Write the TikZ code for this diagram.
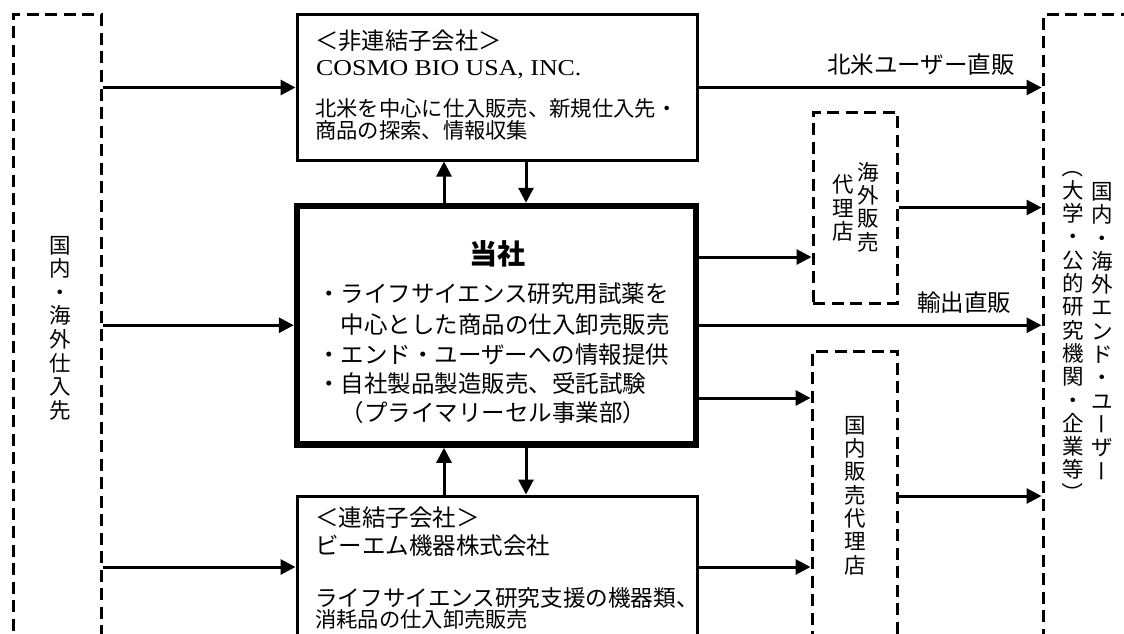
\documentclass[tikz,border=0pt]{standalone}
\usepackage{fontspec}
\usepackage{graphicx}
\usetikzlibrary{arrows.meta,calc}
\newfontfamily\jp{Noto Sans CJK JP}
\newfontfamily\lat[FakeStretch=1.14]{Liberation Serif}
\newcommand\jfs[1]{\fontsize{#1}{#1}\selectfont}
\newcommand\vrot[1]{\makebox[1em]{\raisebox{0.38em}{\rotatebox[origin=c]{-90}{\makebox[1em]{\raisebox{-0.38em}[0.5em][0.5em]{#1}}}}}}
\tikzset{
  solidbox/.style={draw, line width=3pt, inner sep=0pt},
  mainbox/.style={draw, line width=6.5pt, inner sep=0pt},
  dbox/.style={draw, line width=3pt, inner sep=0pt, dash pattern=on 12pt off 6.5pt},
  arr/.style={line width=3pt, -{Triangle[length=15pt,width=15pt]}},
  txt/.style={inner sep=0pt, anchor=base west},
  vtxt/.style={inner sep=0pt, align=center, font=\jp\fontsize{21.5}{23.3}\selectfont}
}
\begin{document}
\begin{tikzpicture}[x=1pt,y=-1pt]
\path[use as bounding box] (0,0) rectangle (1124,634);
\clip (0,0) rectangle (1124,634);
% boxes
\node[dbox, minimum width=88pt, minimum height=645pt] (sup) at (57,337.5) {};
\node[solidbox, minimum width=400pt, minimum height=145pt] (cosmo) at (497,87.5) {};
\node[mainbox, minimum width=399pt, minimum height=238.5pt] (main) at (496.5,325.25) {};
\node[solidbox, minimum width=400pt, minimum height=142pt] (bm) at (497,567) {};
\node[dbox, minimum width=84pt, minimum height=191pt] (ovs) at (855,207.5) {};
\node[dbox, minimum width=85pt, minimum height=290pt] (dom) at (854.5,496) {};
\node[dbox, minimum width=157pt, minimum height=645pt] (eu) at (1121.5,337.5) {};
% cosmo text
\node[txt, font=\jp\jfs{23.3}] (c1) at (315,49.9) {＜非連結子会社＞};
\node[txt, font=\lat\fontsize{22.7}{22.7}\selectfont] (c2) at (316,75) {COSMO BIO USA, INC.};
\node[txt, font=\jp\jfs{21.3}] (c3) at (315,116.6) {北米を中心に仕入販売、新規仕入先・};
\node[txt, font=\jp\jfs{21.3}] (c4) at (315,138.1) {商品の探索、情報収集};
% main text
\node[inner sep=0pt, anchor=base, font=\jp\bfseries\jfs{28}] (m0) at (497.5,264.6) {当社};
\node[txt, font=\jp\jfs{23.5}] (m1) at (317,302.4) {・ライフサイエンス研究用試薬を};
\node[txt, font=\jp\jfs{23.5}] (m2) at (340.5,333.9) {中心とした商品の仕入卸売販売};
\node[txt, font=\jp\jfs{23.5}] (m3) at (317,363.9) {・エンド・ユーザーへの情報提供};
\node[txt, font=\jp\jfs{23.5}] (m4) at (317,392.9) {・自社製品製造販売、受託試験};
\node[txt, font=\jp\jfs{23.5}] (m5) at (340.5,421.4) {（プライマリーセル事業部）};
% bottom box text
\node[txt, font=\jp\jfs{23.5}] (b1) at (315,526.4) {＜連結子会社＞};
\node[txt, font=\jp\jfs{23.5}] (b2) at (315,554) {ビーエム機器株式会社};
\node[txt, font=\jp\jfs{22.6}] (b3) at (315,606.1) {ライフサイエンス研究支援の機器類、};
\node[txt, font=\jp\jfs{21.3}] (b4) at (315,627) {消耗品の仕入卸売販売};
% labels
\node[txt, font=\jp\jfs{23.5}] (l1) at (827,74) {北米ユーザー直販};
\node[txt, font=\jp\jfs{23.5}] (l2) at (917,311) {輸出直販};
% vertical texts
\node[vtxt, font=\jp\fontsize{21.5}{23.6}\selectfont] (vsup) at (60,328) {国\\内\\・\\海\\外\\仕\\入\\先};
\node[vtxt] (vovs1) at (868,207) {海\\外\\販\\売};
\node[vtxt] (vovs2) at (843,208) {代\\理\\店};
\node[vtxt] (vdom) at (855,495.5) {国\\内\\販\\売\\代\\理\\店};
\node[vtxt] (veu1) at (1102,332) {国\\内\\・\\海\\外\\エ\\ン\\ド\\・\\ユ\\\vrot{ー}\\ザ\\\vrot{ー}};
\node[vtxt] (veu2) at (1073,330) {\vrot{（}\\大\\学\\・\\公\\的\\研\\究\\機\\関\\・\\企\\業\\等\\\vrot{）}};
% connectors
\draw[arr] (sup.east |- cosmo.west) -- (cosmo.west);
\draw[arr] (sup.east |- main.west) -- (main.west);
\draw[arr] (sup.east |- bm.west) -- (bm.west);
\draw[arr] (cosmo.east) -- (cosmo.east -| eu.west);
\coordinate (mu) at ([xshift=-52.5pt]main.north);
\coordinate (md) at ([xshift=29.5pt]main.north);
\coordinate (ml) at ([xshift=-52.5pt]main.south);
\coordinate (mr) at ([xshift=29.5pt]main.south);
\draw[arr] (mu) -- (mu |- cosmo.south);
\draw[arr] (md |- cosmo.south) -- (md);
\draw[arr] (ml |- bm.north) -- (ml);
\draw[arr] (mr) -- (mr |- bm.north);
\coordinate (oin) at ([yshift=-49.5pt]ovs.west);
\coordinate (din) at ([yshift=98pt]dom.west);
\draw[arr] (main.east |- oin) -- (oin);
\draw[arr] (ovs.east) -- (ovs.east -| eu.west);
\draw[arr] (main.east) -- (main.east -| eu.west);
\draw[arr] (main.east |- din) -- (din);
\draw[arr] (bm.east) -- (bm.east -| dom.west);
\draw[arr] (dom.east) -- (dom.east -| eu.west);
\end{tikzpicture}
\end{document}
